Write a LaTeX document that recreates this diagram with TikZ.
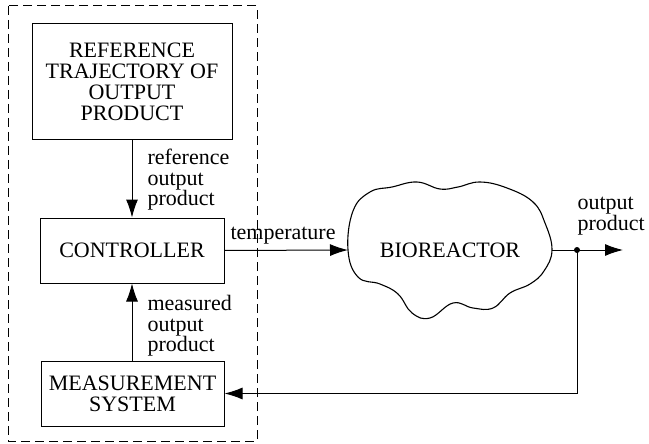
\documentclass[tikz,border=0pt]{standalone}
\usepackage{fontspec}
\setmainfont{Liberation Serif}
\newfontfamily\diagfont{Liberation Serif}
\usetikzlibrary{arrows.meta}

\tikzstyle{block} = [draw,line width=1pt,align=center,inner sep=0pt,
	font=\diagfont\fontsize{22}{21}\selectfont]
\tikzstyle{edgelabel} = [align=left,inner sep=0pt,
	font=\diagfont\fontsize{22}{20.5}\selectfont]
\tikzstyle{wire} = [line width=1pt,-{Latex[length=18pt,width=12pt]}]

\begin{document}
\begin{tikzpicture}[x=1pt,y=-1pt,line width=1pt]
	\useasboundingbox (0,0) rectangle (649,444);

	% dashed frame round the control part
	\draw[dash pattern=on 9pt off 5pt] (8,6) rectangle (257,441);

	\node[block,minimum width=200pt,minimum height=116pt] (ref) at (132,82)
		{REFERENCE\\TRAJECTORY OF\\OUTPUT\\PRODUCT};
	\node[block,minimum width=184pt,minimum height=65pt] (ctrl) at (132,250.5)
		{CONTROLLER};
	\node[block,minimum width=183pt,minimum height=65pt] (meas) at (132.5,393.5)
		{MEASUREMENT\\SYSTEM};

	% the plant
	\draw[line width=1.1pt] plot[smooth cycle,tension=0.7] coordinates {
		(348,250) (353,211) (370,192) (392,187) (417,182) (440,189)
		(458,187) (480,182) (507,188) (533,202) (545,223) (552,250)
		(544,271) (530,284) (510,293) (493,308) (473,308) (453,303)
		(430,318) (412,313) (398,294) (380,284) (358,277)};
	\node[font=\diagfont\fontsize{22}{21}\selectfont] (bio) at (450,250) {BIOREACTOR};
	\coordinate (bioin) at (348,250);
	\coordinate (bioout) at (552,250);

	\coordinate (split) at (577,250);
	\coordinate (out) at (623,250);
	\coordinate (back) at (577,393.5);
	\fill (split) circle (3pt);

	\draw[wire] (ref.south) -- (ref.south |- ctrl.north);
	\draw[wire] (meas.north -| ctrl.south) -- (ctrl.south);
	\draw[wire] (ctrl.east) -- (bioin);
	\draw[wire] (bioout) -- (out);
	\draw[wire] (split) -- (back) -- (meas.east);

	\node[edgelabel,anchor=north west] (reflbl) at (147,149)
		{reference\\output\\product};
	\node[edgelabel,anchor=north west] (measlbl) at (147,295)
		{measured\\output\\product};
	\node[edgelabel,anchor=base west] (templbl) at (230,239) {temperature};
	\node[edgelabel,anchor=north west] (outlbl) at (577,197)
		{output\\product};
\end{tikzpicture}
\end{document}
